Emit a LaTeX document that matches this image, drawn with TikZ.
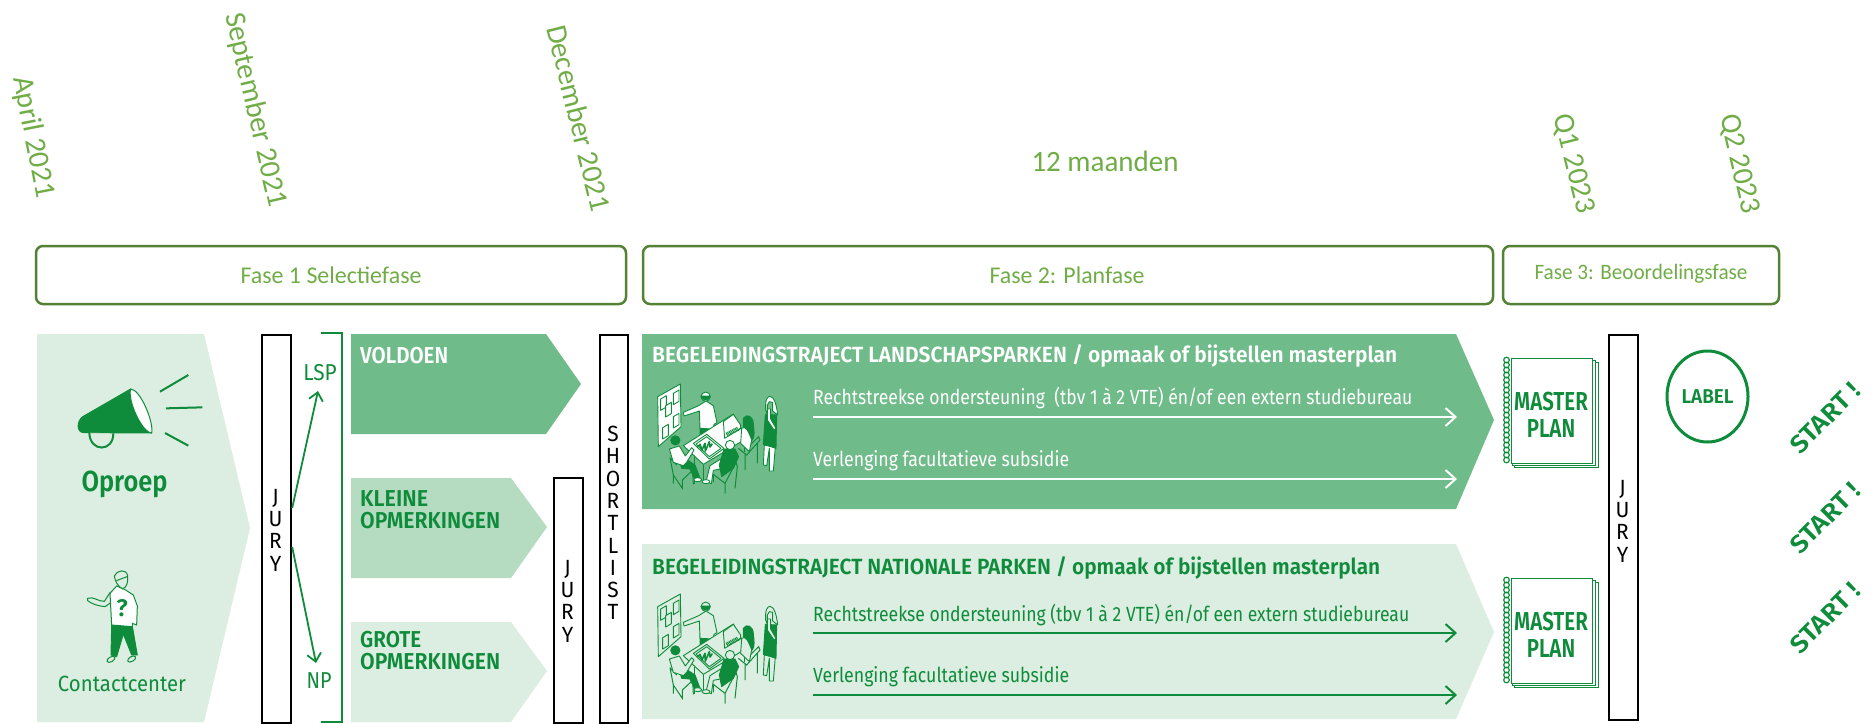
\documentclass[tikz,border=0pt]{standalone}
\usepackage{fontspec}
\usepackage{graphicx}
\usetikzlibrary{arrows.meta,shapes.geometric}
\setmainfont{Fira Sans}[BoldFont={Fira Sans SemiBold}]
\newfontfamily\calfont{Carlito}
\newfontfamily\mplanfont[FakeStretch=0.79]{Fira Sans SemiBold}
\newfontfamily\juryfont[FakeStretch=0.95]{Fira Sans}
\definecolor{dgreen}{HTML}{0F8C3B}
\definecolor{mgreen}{HTML}{6FBC8A}
\definecolor{lgreen}{HTML}{B5DCC1}
\definecolor{xgreen}{HTML}{DCEDE1}
\definecolor{faseline}{HTML}{548235}
\definecolor{fasetext}{HTML}{70AD47}
% fit text to a given width, keeping its height
\newcommand{\fw}[2]{\resizebox{#1pt}{\height}{#2}}
\newcommand{\fsz}[1]{\fontsize{#1}{#1}\selectfont}
\def\mfill{white}
\tikzset{
  x=1pt,y=-1pt,
  datum/.style={font=\calfont\fsz{29.5},text=fasetext,inner sep=0},
  fasebox/.style={draw=faseline,line width=2.5pt,rounded corners=7pt,fill=white},
  fasetxt/.style={font=\calfont\fsz{24},text=fasetext,inner sep=0},
  jurybox/.style={draw=black,line width=2.2pt,fill=white,inner sep=0,anchor=north west},
  stack/.style={align=center,inner sep=0,text=black,font=\juryfont\fontsize{22}{22.3}\selectfont},
  headtxt/.style={font=\bfseries\fsz{22},anchor=base west,inner sep=0},
  ltxt/.style={font=\fsz{20.5},anchor=base west,inner sep=0},
  boxtxt/.style={font=\bfseries\fsz{23},anchor=base west,inner sep=0,align=left},
  wline/.style={draw=white,line width=2pt,-{Straight Barb[length=10pt,width=18pt,line width=2pt]}},
  gline/.style={draw=dgreen,line width=2pt,-{Straight Barb[length=10pt,width=18pt,line width=2pt]}},
  jarrow/.style={draw=dgreen,line width=1.8pt,-{Straight Barb[length=8pt,width=14pt,line width=1.8pt]}},
  ink/.style={draw=dgreen,line width=0.9pt,fill=\mfill,line join=round},
  inkd/.style={draw=dgreen,line width=0.9pt,fill=dgreen,line join=round},
  wire/.style={draw=dgreen,line width=1pt},
  mpage/.style={draw=dgreen,line width=1pt,fill=white},
  mtxt/.style={text=dgreen,inner sep=0,font=\mplanfont\fsz{26}},
  start/.style={text=dgreen,inner sep=0,rotate=45,font=\bfseries\fsz{25}},
}
% meeting illustration, coordinates of a 3x crop
\newcommand{\meeting}[2]{%
\begin{scope}[shift={(650,#1)},x=0.33333pt,y=-0.33333pt]
  \def\mfill{#2}
  % board
  \path[ink] (23,35)--(91,-3)--(93,125)--(25,185)--cycle;
  \foreach \a/\b in {32/42,47/62,70/25,70/95,38/128}{
    \path[ink] (\a,\b)--++(17,-10)--++(0,34)--++(-17,10)--cycle;}
  % presenter
  \path[inkd] (150,125)--(190,128)--(178,150)--(150,152)--cycle;
  \path[ink] (100,82)--(146,62)--(168,48)--(190,62)--(201,113)--(192,118)--(190,132)--(150,130)--(148,78)--(102,93)--cycle;
  \path[ink] (167,35) circle[radius=4.6pt];
  \path[inkd] (153,33) arc[start angle=180,end angle=360,x radius=4.6pt,y radius=4pt]--cycle;
  % table
  \draw[wire] (160,238)--(160,292) (132,215)--(132,296) (283,170)--(283,200);
  \path[ink] (100,182)--(250,87)--(290,160)--(160,238)--cycle;
  \path[ink] (130,175)--(170,148)--(222,190)--(178,222)--cycle;
  \path[ink] (138,177)--(170,155)--(213,190)--(178,215)--cycle;
  \draw[dgreen,line width=1.6pt,line join=round] (143,186)--(150,178)--(156,195)--(165,175)--(166,198)--(178,170)--(180,186)--(187,176);
  % laptop
  \path[ink] (220,110)--(250,88)--(272,120)--(272,130)--(224,160)--cycle;
  \path[draw=dgreen,line width=2pt,dash pattern=on 1pt off 0.7pt] (232,152)--(270,132) (228,146)--(262,128);
  % seated woman
  \draw[wire] (285,205)--(285,255) (322,175)--(322,235) (265,190)--(290,210)--(330,165)--(326,155)--(292,188);
  \path[ink] (275,130)--(292,125)--(305,165)--(298,200)--(272,175)--cycle;
  \path[inkd] (280,100) .. controls (290,85) and (308,92) .. (310,115) .. controls (312,135) and (315,155) .. (307,165) -- (292,135) -- (280,125) -- cycle;
  % front man
  \draw[wire] (190,268)--(225,295)--(225,326) (225,295)--(258,232)--(262,245) (262,245)--(255,310) (190,268)--(190,292);
  \path[ink] (212,222)--(180,242)--(168,290)--(184,296)--(190,256)--(222,250)--cycle;
  \path[ink] (168,290) ellipse[x radius=4pt,y radius=2pt];
  \path[inkd] (222,192)--(255,192)--(266,215)--(250,250)--(215,275)--(208,240)--cycle;
  \path[ink] (240,180) circle[radius=4.6pt];
  % left man
  \draw[wire] (60,218)--(70,270)--(70,296) (70,270)--(97,310)--(97,285) (97,285)--(128,256)--(130,298) (60,218)--(80,240);
  \path[inkd] (90,232)--(112,225)--(135,240)--(150,280)--(135,284)--(120,252)--(95,250)--cycle;
  \path[ink] (143,284) ellipse[x radius=4pt,y radius=2pt];
  \path[ink] (58,192)--(88,183)--(106,213)--(125,188)--(132,195)--(110,232)--(100,242)--(70,232)--cycle;
  \path[inkd] (76,166) circle[radius=4.6pt];
  % standing woman
  \path[ink] (343,180)--(340,240)--(350,242)--(358,190)--(358,258)--(370,258)--(376,185)--cycle;
  \path[inkd] (346,88)--(380,90)--(378,190)--(340,178)--cycle;
  \path[ink] (352,72)--(352,105)--(372,135)--(378,130)--(362,102)--(362,72)--cycle;
  \path[ink] (347,75) .. controls (345,45) and (352,34) .. (360,34) .. controls (372,34) and (380,60) .. (383,90) -- (368,78) -- (368,52) -- (358,50) -- (352,60) -- (352,88) -- cycle;
\end{scope}}
% notebook
\newcommand{\mplan}[1]{%
\begin{scope}[shift={(0,#1)}]
  \path[mpage] (1514,362) rectangle (1598,467);
  \path[mpage] (1512,360) rectangle (1595,465);
  \path[mpage] (1511,358) rectangle (1592,463);
  \foreach \i in {0,...,20}{\draw[dgreen,line width=1.2pt] (1506.5,360+5*\i) circle[radius=2.8pt];}
\end{scope}}
\begin{document}
\begin{tikzpicture}
\useasboundingbox (0,0) rectangle (1876,723);
\fill[white] (0,0) rectangle (1876,723);
% dates
\node[datum,rotate=-79] (d1) at (33,137) {April 2021};
\node[datum,rotate=-77] (d2) at (255,110) {September 2021};
\node[datum,rotate=-76] (d3) at (579,118) {December 2021};
\node[datum,rotate=-76] (d4) at (1573,164) {Q1 2023};
\node[datum,rotate=-77] (d5) at (1739,164) {Q2 2023};
\node[datum] (d6) at (1105,161) {\fw{147}{12 maanden}};
% fase boxes
\path[fasebox] (36,246) rectangle (626,304);
\node[fasetxt] (f1) at (331,275) {\fw{181}{Fase 1 Selectiefase}};
\path[fasebox] (643,246) rectangle (1493,304);
\node[fasetxt] (f2) at (1067,275) {\fw{155}{Fase 2: Planfase}};
\path[fasebox] (1503,246) rectangle (1779,304);
\node[fasetxt] (f3) at (1641,274) {\fw{213}{\fsz{22}Fase 3: Beoordelingsfase}};
% oproep panel
\fill[xgreen] (37,334)--(204,334)--(250,528)--(204,722)--(37,722)--cycle;
% megaphone
\begin{scope}[shift={(70,365)},x=0.33333pt,y=-0.33333pt]
  \path[inkd] (182,72)--(38,155) .. controls (20,168) and (18,203) .. (42,203) -- (245,204) -- cycle;
  \path[draw=dgreen,line width=1pt,fill=white] (182,72) .. controls (210,72) and (252,170) .. (245,204) .. controls (215,202) and (172,105) .. (182,72) -- cycle;
  \draw[dgreen,line width=2pt] (58,204) .. controls (60,262) and (130,262) .. (130,205);
  \draw[dgreen,line width=2pt] (270,80)--(355,30) (288,130)--(397,127) (285,204)--(355,242);
\end{scope}
\node[text=dgreen,inner sep=0,font=\bfseries\fsz{29}] (oproep) at (124.5,484) {\fw{86}{Oproep}};
% contact person
\begin{scope}[shift={(75,560)},x=0.33333pt,y=-0.33333pt]
  \path[inkd] (110,192)--(172,198)--(187,285)--(170,285)--(145,222)--(125,290)--(108,285)--cycle;
  \path[draw=dgreen,line width=1pt,fill=xgreen,rotate around={30:(108,298)}] (108,298) ellipse[x radius=4.4pt,y radius=2.4pt];
  \path[draw=dgreen,line width=1pt,fill=xgreen,rotate around={30:(170,297)}] (170,297) ellipse[x radius=4.4pt,y radius=2.4pt];
  \path[draw=dgreen,line width=1pt,fill=xgreen] (38,115) .. controls (55,108) and (70,125) .. (88,124) -- (105,98) -- (112,125) -- (90,140) .. controls (70,138) and (50,132) .. (38,122) -- cycle;
  \path[draw=dgreen,line width=1pt,fill=white] (105,100) -- (125,78) -- (152,90) -- (175,105) -- (187,138) -- (185,195) -- (172,190) -- (172,200) -- (110,195) -- cycle;
  \path[draw=dgreen,line width=1pt,fill=xgreen] (118,48) .. controls (125,30) and (155,25) .. (158,48) .. controls (160,65) and (155,85) .. (142,86) .. controls (130,80) and (120,65) .. (118,48) -- cycle;
  \draw[dgreen,line width=1pt] (124,62)--(156,50);
\end{scope}
\node[text=dgreen,inner sep=0,font=\bfseries\fsz{24}] (q) at (122,608) {?};
\node[text=dgreen,inner sep=0,font=\fsz{22}] (cc) at (122,684) {\fw{128}{Contactcenter}};
% jury 1
\node[jurybox,minimum width=29pt,minimum height=388pt] (j1) at (261,334) {};
\node[stack] (j1t) at (275.5,530) {J\\U\\R\\Y};
% bracket
\draw[dgreen,line width=2pt] (321,333)--(342,333)--(342,722)--(321,722);
\node[text=dgreen,inner sep=0,font=\fsz{23}] (lsp) at (320,373) {\fw{33.5}{LSP}};
\node[text=dgreen,inner sep=0,font=\fsz{23}] (np) at (319,681) {\fw{25}{NP}};
\coordinate (a1) at (j1.east |- 0,508);
\coordinate (a2) at (j1.east |- 0,547);
\coordinate (e1) at (318,391);
\coordinate (e2) at (316,663);
\draw[jarrow] (a1)--(e1);
\draw[jarrow] (a2)--(e2);
% results
\fill[mgreen] (351,334)--(546,334)--(581,384)--(546,434)--(351,434)--cycle;
\node[boxtxt,text=white] (v) at (360,363) {\fw{88}{VOLDOEN}};
\fill[lgreen] (351,478)--(511,478)--(547,527)--(511,578)--(351,578)--cycle;
\node[boxtxt,text=dgreen] (k1) at (360,506) {\fw{68}{KLEINE}};
\node[boxtxt,text=dgreen] (k2) at (360,528) {\fw{140}{OPMERKINGEN}};
\fill[xgreen] (351,622)--(511,622)--(547,671)--(511,722)--(351,722)--cycle;
\node[boxtxt,text=dgreen] (g1) at (360,647) {\fw{61}{GROTE}};
\node[boxtxt,text=dgreen] (g2) at (360,669) {\fw{140}{OPMERKINGEN}};
% jury 2, shortlist
\node[jurybox,minimum width=29pt,minimum height=245pt] (j2) at (553,477) {};
\node[stack] (j2t) at (567.5,601) {J\\U\\R\\Y};
\node[jurybox,minimum width=28pt,minimum height=388pt] (s) at (599,334) {};
\node[stack] (st) at (613,523) {S\\H\\O\\R\\T\\L\\I\\S\\T};
% LSP panel
\fill[mgreen] (642,334)--(1456,334)--(1494,420)--(1456,509)--(642,509)--cycle;
\node[headtxt,text=white] (t1) at (652,362.5) {\fw{745}{BEGELEIDINGSTRAJECT LANDSCHAPSPARKEN / opmaak of bijstellen masterplan}};
\node[ltxt,text=white] (t2) at (813,404) {\fw{599}{Rechtstreekse ondersteuning\ \ (tbv 1 à 2 VTE) én/of een extern studiebureau}};
\node[ltxt,text=white] (t3) at (813,466) {\fw{256}{Verlenging facultatieve subsidie}};
\coordinate (w1s) at (813,417); \coordinate (w1e) at (1457,417);
\coordinate (w2s) at (813,479); \coordinate (w2e) at (1457,479);
\draw[wline] (w1s)--(w1e);
\draw[wline] (w2s)--(w2e);
\meeting{385}{white}
% NP panel
\fill[xgreen] (642,544)--(1456,544)--(1494,632)--(1456,719)--(642,719)--cycle;
\node[headtxt,text=dgreen] (t4) at (652,574.5) {\fw{728}{BEGELEIDINGSTRAJECT NATIONALE PARKEN / opmaak of bijstellen masterplan}};
\node[ltxt,text=dgreen] (t5) at (813,621) {\fw{596}{Rechtstreekse ondersteuning (tbv 1 à 2 VTE) én/of een extern studiebureau}};
\node[ltxt,text=dgreen] (t6) at (813,682) {\fw{256}{Verlenging facultatieve subsidie}};
\coordinate (g1s) at (813,633); \coordinate (g1e) at (1457,633);
\coordinate (g2s) at (813,695); \coordinate (g2e) at (1457,695);
\draw[gline] (g1s)--(g1e);
\draw[gline] (g2s)--(g2e);
\meeting{595}{xgreen}
% master plans
\mplan{0}
\node[mtxt] (m1) at (1551,401) {MASTER};
\node[mtxt] (p1) at (1551,428) {PLAN};
\mplan{220}
\node[mtxt] (m2) at (1551,621) {MASTER};
\node[mtxt] (p2) at (1551,648) {PLAN};
% jury 3
\node[jurybox,minimum width=29pt,minimum height=385pt] (j3) at (1608,334) {};
\node[stack] (j3t) at (1622.5,521) {J\\U\\R\\Y};
% label
\node[ellipse,draw=dgreen,line width=3pt,fill=white,minimum width=81pt,minimum height=91pt,inner sep=0,text=dgreen,font=\bfseries\fsz{20}] (lab) at (1707.5,396.5) {\fw{52}{LABEL}};
% start
\node[start] (s1) at (1825,418) {\fw{88}{START !}};
\node[start] (s2) at (1825,518) {\fw{88}{START !}};
\node[start] (s3) at (1825,618) {\fw{88}{START !}};
\end{tikzpicture}
\end{document}
